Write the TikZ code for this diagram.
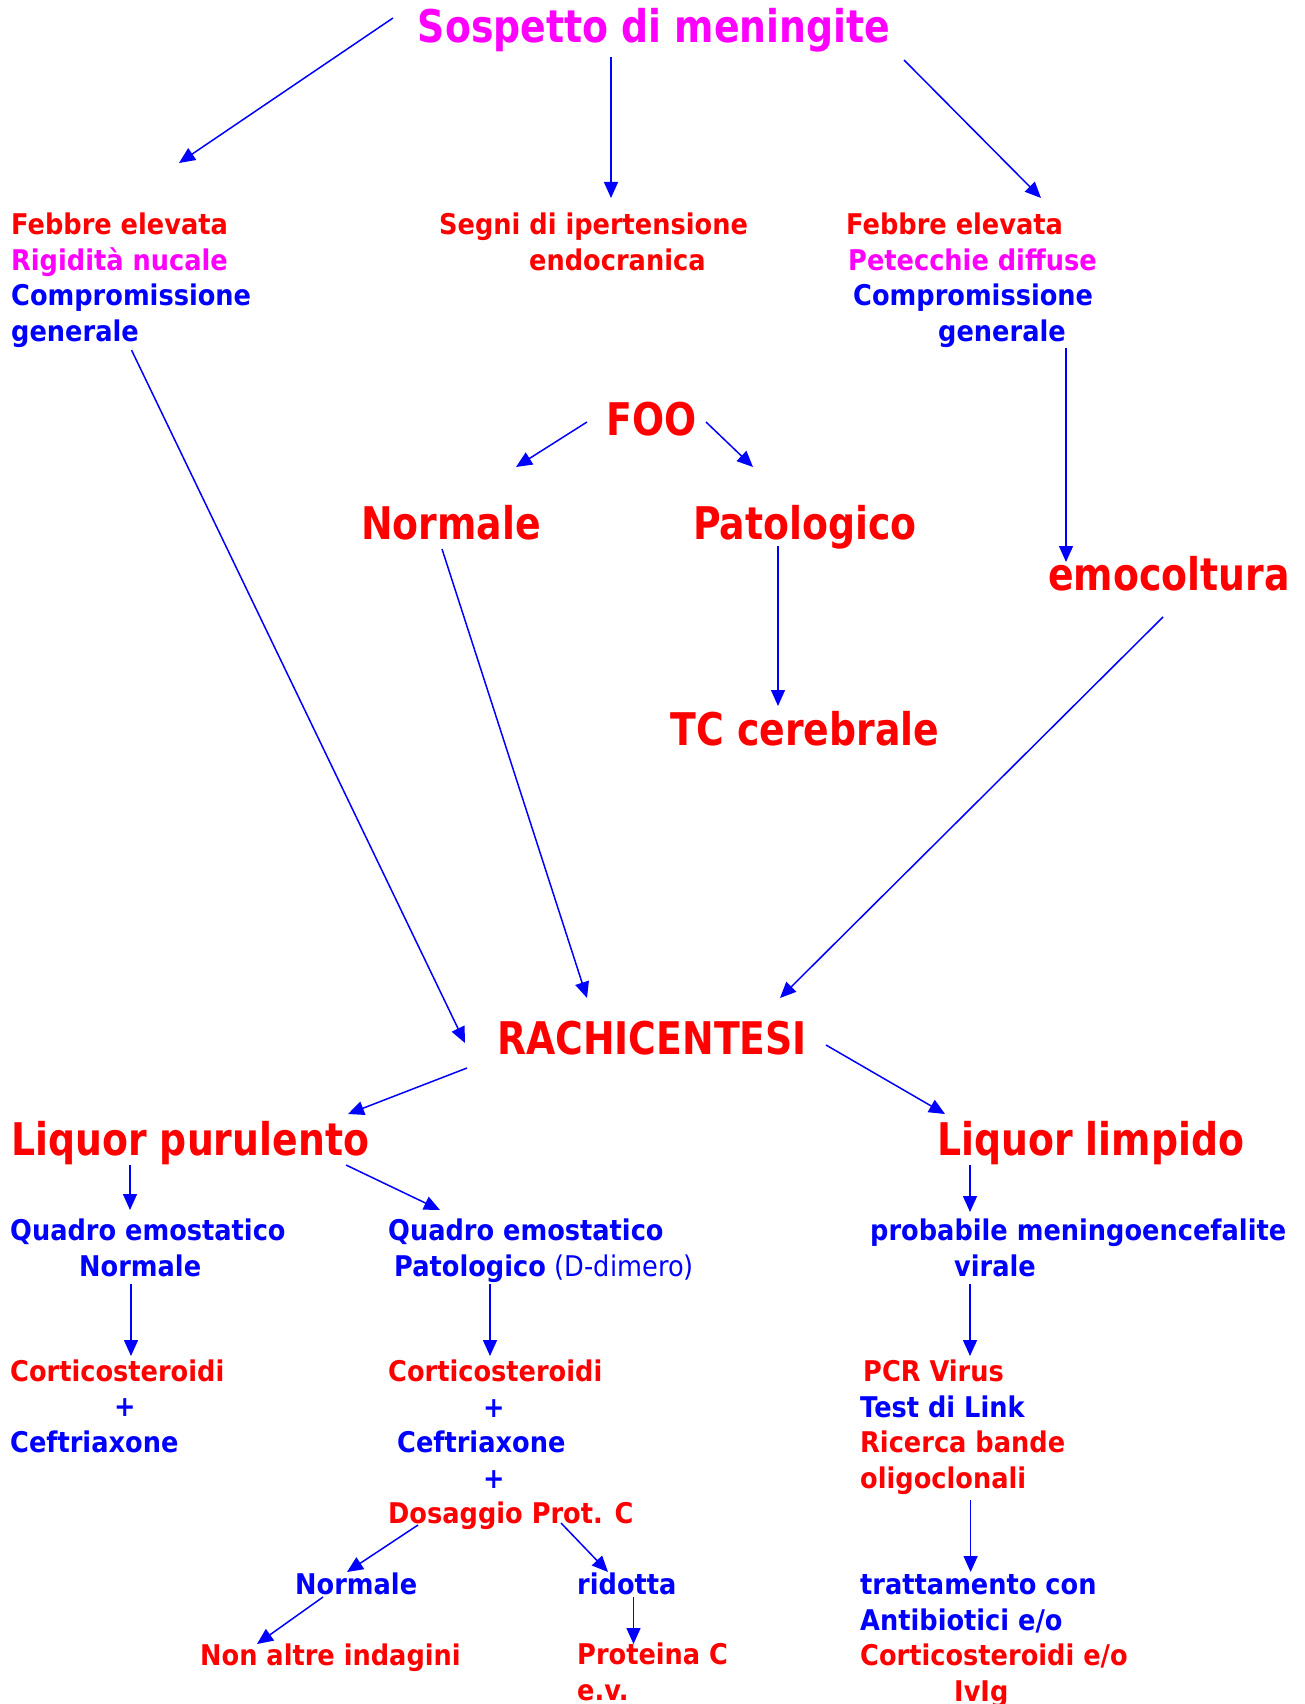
\documentclass[tikz,border=0pt]{standalone}
\usepackage{fontspec}
\setmainfont{DejaVu Sans}[FakeStretch=0.9]
\newfontfamily\bigfont{DejaVu Sans}[FakeStretch=0.84]
\usetikzlibrary{arrows.meta,calc}
\definecolor{fucsia}{RGB}{255,0,255}
\definecolor{rosso}{RGB}{255,0,0}
\definecolor{blu}{RGB}{0,0,255}

\begin{document}
\begin{tikzpicture}[x=1pt,y=-1pt,
    txt/.style={inner sep=0pt, align=left, text=blu, font=\fontsize{28.5}{35.4}\selectfont\bfseries},
    big/.style={inner sep=0pt, text=rosso, font=\bigfont\fontsize{45}{50}\selectfont\bfseries},
    arr/.style={draw=blu, line width=1.5pt, -{Triangle[length=16pt,width=14pt]}}]
   \useasboundingbox (0,0) rectangle (1304,1704);

   % top
   \node[big, text=fucsia, anchor=base] (title) at (654,43) {Sospetto di meningite};
   \node[txt, anchor=base west] (lft) at (11,341) {\textcolor{rosso}{Febbre elevata}\\\textcolor{fucsia}{Rigidità nucale}\\Compromissione\\generale};
   \node[txt, text=rosso, anchor=base west] (seg) at (439,270) {Segni di ipertensione\\\hspace*{90pt}endocranica};
   \node[txt, anchor=base west] (rgt) at (846,341) {\textcolor{rosso}{Febbre elevata}\\\hspace*{2pt}\textcolor{fucsia}{Petecchie diffuse}\\\hspace*{7pt}Compromissione\\\hspace*{92pt}generale};

   % middle
   \node[big, anchor=base] (foo) at (652,435) {FOO};
   \node[big, anchor=base] (nor) at (451,539) {Normale};
   \node[big, anchor=base] (pat) at (805,539) {Patologico};
   \node[big, anchor=base] (tc) at (805,745) {TC cerebrale};
   \node[big, anchor=base] (emo) at (1169,590) {emocoltura};
   \node[big, anchor=base] (rac) at (652,1054) {RACHICENTESI};
   \node[big, anchor=base west] (pur) at (11,1155) {Liquor purulento};
   \node[big, anchor=base west] (lim) at (937,1155) {Liquor limpido};

   % bottom
   \node[txt, anchor=base west] (qn) at (10,1276) {Quadro emostatico\\\hspace*{69pt}Normale};
   \node[txt, anchor=base west] (qp) at (388,1276) {Quadro emostatico\\\hspace*{6pt}Patologico {\mdseries(D-dimero)}};
   \node[txt, anchor=base west] (pmv) at (870,1276) {probabile meningoencefalite\\\hspace*{84pt}virale};
   \node[txt, anchor=base west] (cn) at (10,1452) {\textcolor{rosso}{Corticosteroidi}\\\hspace*{104pt}+\\Ceftriaxone};
   \node[txt, anchor=base west] (cp) at (388,1488) {\textcolor{rosso}{Corticosteroidi}\\\hspace*{95pt}+\\\hspace*{9pt}Ceftriaxone\\\hspace*{95pt}+};
   \node[txt, text=rosso, anchor=base west] (dos) at (388,1523) {Dosaggio Prot. C};
   \node[txt, anchor=base west] (pcr) at (860,1488) {\hspace*{3pt}\textcolor{rosso}{PCR Virus}\\Test di Link\\\textcolor{rosso}{Ricerca bande}\\\textcolor{rosso}{oligoclonali}};
   \node[txt, anchor=base west] (nrm) at (295,1594) {Normale};
   \node[txt, anchor=base west] (rid) at (577,1594) {ridotta};
   \node[txt, text=rosso, anchor=base west] (non) at (200,1665) {Non altre indagini};
   \node[txt, text=rosso, anchor=base west] (prc) at (577,1700) {Proteina C\\e.v.};
   \node[txt, anchor=base west] (trt) at (860,1701) {trattamento con\\Antibiotici e/o\\\textcolor{rosso}{Corticosteroidi e/o}\\\hspace*{94pt}\textcolor{rosso}{IvIg}};

   % arrows
   \draw[arr] ($(title.base)+(-261,-25)$) -- ($(lft.base west)+(168,-178)$);
   \draw[arr] ($(title.base)+(-43,14)$) -- ($(seg.base west)+(172,-72)$);
   \draw[arr] ($(title.base)+(250,17)$) -- ($(rgt.base west)+(195,-143)$);
   \draw[arr] ($(lft.base west)+(120.5,9)$) -- ($(rac.base)+(-187,-11)$);
   \draw[arr] ($(rgt.base west)+(220,7)$) -- ($(emo.base)+(-103,-28)$);
   \draw[arr] ($(foo.base)+(-65,-13)$) -- ($(nor.base)+(65,-72)$);
   \draw[arr] ($(foo.base)+(54,-13)$) -- ($(pat.base)+(-52,-72)$);
   \draw[arr] ($(nor.base)+(-9,10)$) -- ($(rac.base)+(-65,-56)$);
   \draw[arr] ($(pat.base)+(-27,7)$) -- ($(tc.base)+(-27,-39)$);
   \draw[arr] ($(emo.base)+(-6,27)$) -- ($(rac.base)+(128,-56)$);
   \draw[arr] ($(rac.base)+(-185,14)$) -- ($(pur.base west)+(337,-41)$);
   \draw[arr] ($(rac.base)+(174,-9)$) -- ($(lim.base west)+(8,-41)$);
   \draw[arr] ($(pur.base west)+(119,10)$) -- ($(qn.base west)+(120,-66)$);
   \draw[arr] ($(pur.base west)+(335,10)$) -- ($(qp.base west)+(52,-66)$);
   \draw[arr] ($(lim.base west)+(33,10)$) -- ($(pmv.base west)+(100,-64)$);
   \draw[arr] ($(qn.base west)+(121,8)$) -- ($(cn.base west)+(121,-96)$);
   \draw[arr] ($(qp.base west)+(102,8)$) -- ($(cp.base west)+(102,-132)$);
   \draw[arr] ($(pmv.base west)+(100,8)$) -- ($(pcr.base west)+(110,-132)$);
   \draw[arr] ($(dos.base west)+(30,2)$) -- ($(nrm.base west)+(52,-22)$);
   \draw[arr] ($(dos.base west)+(173,0)$) -- ($(rid.base west)+(31,-22)$);
   \draw[arr] ($(nrm.base west)+(28,3)$) -- ($(non.base west)+(57,-21)$);
   \draw[arr] ($(rid.base west)+(56.5,3)$) -- ($(prc.base west)+(56.5,-56)$);
   \draw[arr] ($(pcr.base west)+(110.6,12)$) -- ($(trt.base west)+(110.6,-129)$);
\end{tikzpicture}
\end{document}
